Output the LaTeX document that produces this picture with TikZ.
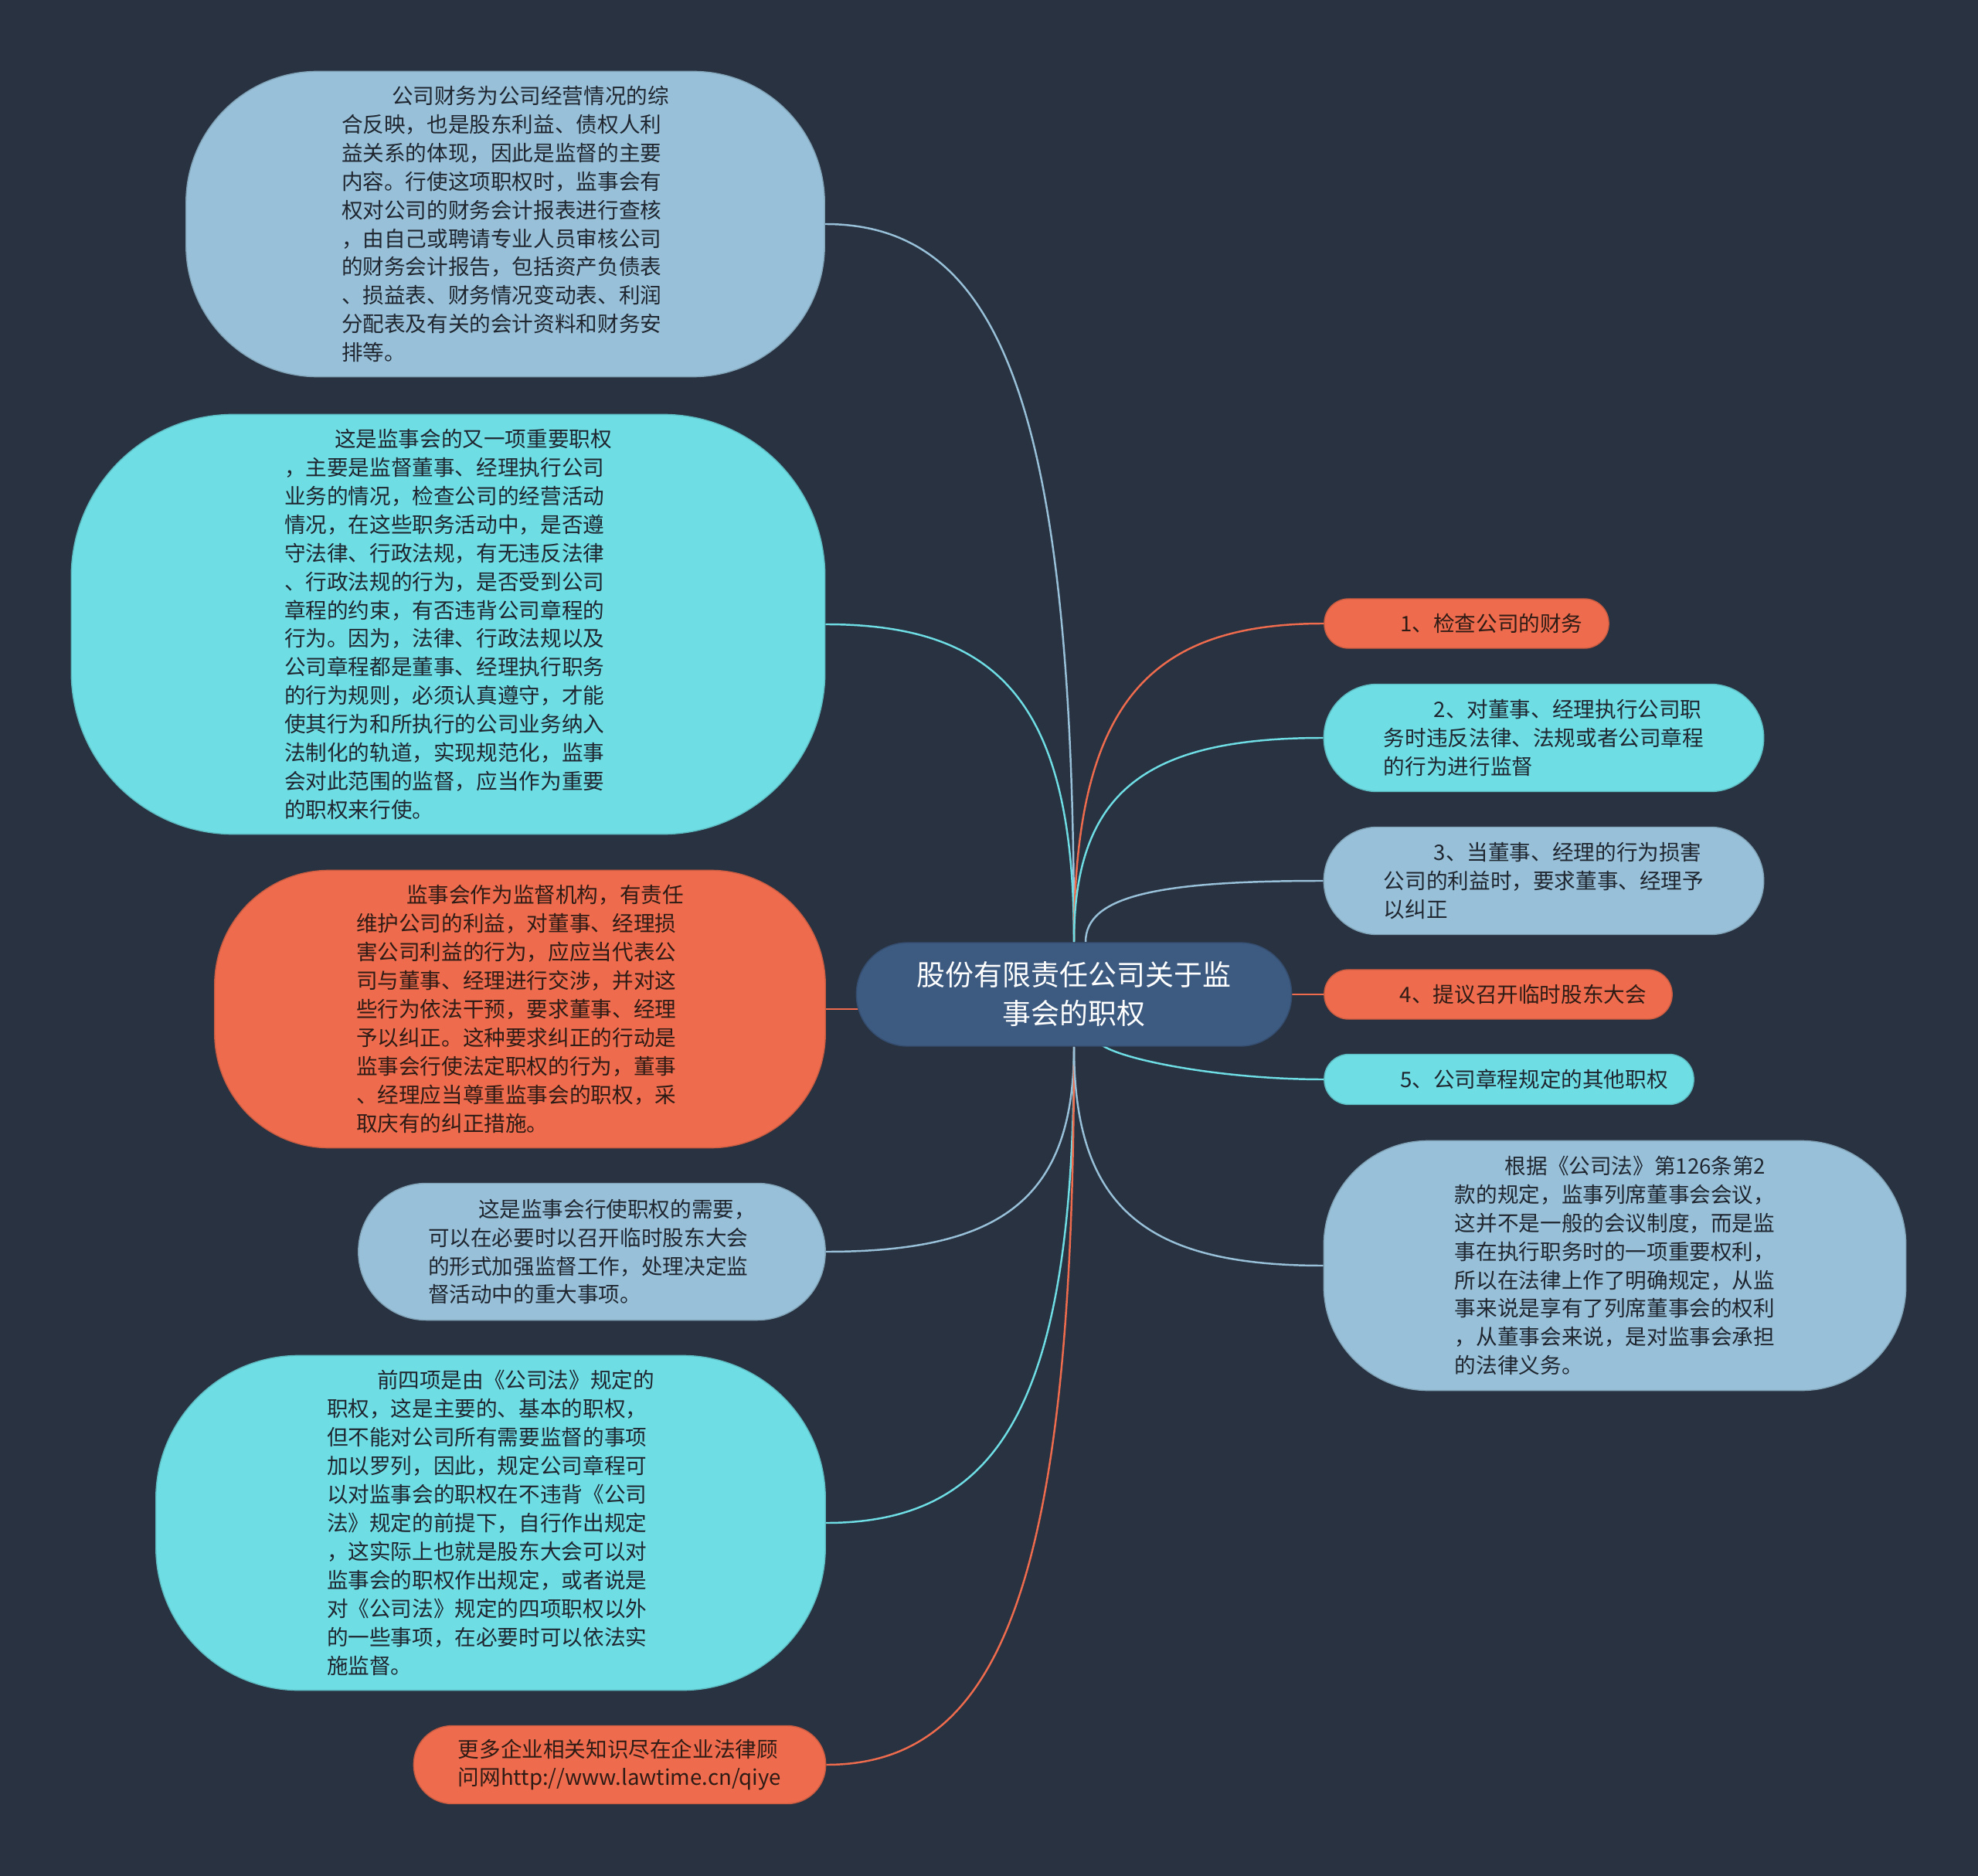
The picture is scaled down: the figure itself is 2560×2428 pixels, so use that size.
\documentclass[tikz,border=0pt]{standalone}
\usepackage{fontspec}
\newfontfamily\cjk{Noto Sans CJK SC}
\usetikzlibrary{backgrounds,calc}
\definecolor{bg}{HTML}{293241}
\definecolor{rootc}{HTML}{3D5A80}
\definecolor{lblue}{HTML}{98C1D9}
\definecolor{cyanc}{HTML}{6EDDE4}
\definecolor{orangec}{HTML}{EE6C4D}
\definecolor{darktxt}{HTML}{1F2630}
\definecolor{browntxt}{HTML}{2E1B15}
\tikzset{
  box/.style={rectangle, inner sep=0pt, align=left, font=\cjk\fontsize{7.85}{10.5}\selectfont, text=darktxt, line width=0.4pt},
  bluebox/.style={box, fill=lblue, draw=lblue!85!black},
  cyanbox/.style={box, fill=cyanc, draw=cyanc!85!black},
  orangebox/.style={box, fill=orangec, draw=orangec!85!black, text=browntxt},
  rootbox/.style={rectangle, inner sep=0pt, align=center, fill=rootc, draw=rootc!85!black, line width=0.4pt, text=white, font=\cjk\fontsize{10.5}{14.2}\selectfont},
  link/.style={line width=0.7pt},
}
\newcommand{\ind}{\hspace*{2.35em}}
\newcommand{\curvelink}[3]{%
  \draw[link,#1] (#2) .. controls ($(#2)!0.75!(#2 |- #3)$) and ($(#2 |- #3)!0.3!(#3)$) .. (#3);}
\begin{document}
\begin{tikzpicture}[x=0.01cm, y=-0.01cm]
\useasboundingbox (0,0) rectangle (2560,2428);

% root
\node[rootbox, minimum width=5.63cm, minimum height=1.34cm, rounded corners=0.665cm] (root) at (1390,1287)
  {股份有限责任公司关于监\\事会的职权};

% right side
\node[orangebox, minimum width=3.68cm, minimum height=0.64cm, rounded corners=0.315cm] (R1) at (1898,807)
  {\ind 1、检查公司的财务};
\node[cyanbox, minimum width=5.69cm, minimum height=1.39cm, rounded corners=0.69cm] (R2) at (1998,955)
  {\ind 2、对董事、经理执行公司职\\务时违反法律、法规或者公司章程\\的行为进行监督};
\node[bluebox, minimum width=5.69cm, minimum height=1.39cm, rounded corners=0.69cm] (R3) at (1998,1140)
  {\ind 3、当董事、经理的行为损害\\公司的利益时，要求董事、经理予\\以纠正};
\node[orangebox, minimum width=4.5cm, minimum height=0.64cm, rounded corners=0.315cm] (R4) at (1939,1287)
  {\ind 4、提议召开临时股东大会};
\node[cyanbox, minimum width=4.78cm, minimum height=0.65cm, rounded corners=0.32cm] (R5) at (1953,1397)
  {\ind 5、公司章程规定的其他职权};
\node[bluebox, minimum width=7.53cm, minimum height=3.23cm, rounded corners=1.35cm] (R6) at (2090,1638)
  {\ind 根据《公司法》第126条第2\\款的规定，监事列席董事会会议，\\这并不是一般的会议制度，而是监\\事在执行职务时的一项重要权利，\\所以在法律上作了明确规定，从监\\事来说是享有了列席董事会的权利\\，从董事会来说，是对监事会承担\\的法律义务。};

% left side
\node[bluebox, minimum width=8.26cm, minimum height=3.95cm, rounded corners=1.7cm] (L1) at (654,290)
  {\ind 公司财务为公司经营情况的综\\合反映，也是股东利益、债权人利\\益关系的体现，因此是监督的主要\\内容。行使这项职权时，监事会有\\权对公司的财务会计报表进行查核\\，由自己或聘请专业人员审核公司\\的财务会计报告，包括资产负债表\\、损益表、财务情况变动表、利润\\分配表及有关的会计资料和财务安\\排等。};
\node[cyanbox, minimum width=9.75cm, minimum height=5.43cm, rounded corners=2.1cm] (L2) at (580,808)
  {\ind 这是监事会的又一项重要职权\\，主要是监督董事、经理执行公司\\业务的情况，检查公司的经营活动\\情况，在这些职务活动中，是否遵\\守法律、行政法规，有无违反法律\\、行政法规的行为，是否受到公司\\章程的约束，有否违背公司章程的\\行为。因为，法律、行政法规以及\\公司章程都是董事、经理执行职务\\的行为规则，必须认真遵守，才能\\使其行为和所执行的公司业务纳入\\法制化的轨道，实现规范化，监事\\会对此范围的监督，应当作为重要\\的职权来行使。};
\node[orangebox, minimum width=7.9cm, minimum height=3.59cm, rounded corners=1.48cm] (L3) at (673,1306)
  {\ind 监事会作为监督机构，有责任\\维护公司的利益，对董事、经理损\\害公司利益的行为，应应当代表公\\司与董事、经理进行交涉，并对这\\些行为依法干预，要求董事、经理\\予以纠正。这种要求纠正的行动是\\监事会行使法定职权的行为，董事\\、经理应当尊重监事会的职权，采\\取庆有的纠正措施。};
\node[bluebox, minimum width=6.04cm, minimum height=1.77cm, rounded corners=0.88cm] (L4) at (766,1620)
  {\ind 这是监事会行使职权的需要，\\可以在必要时以召开临时股东大会\\的形式加强监督工作，处理决定监\\督活动中的重大事项。};
\node[cyanbox, minimum width=8.66cm, minimum height=4.33cm, rounded corners=1.85cm] (L5) at (635,1971)
  {\ind 前四项是由《公司法》规定的\\职权，这是主要的、基本的职权，\\但不能对公司所有需要监督的事项\\加以罗列，因此，规定公司章程可\\以对监事会的职权在不违背《公司\\法》规定的前提下，自行作出规定\\，这实际上也就是股东大会可以对\\监事会的职权作出规定，或者说是\\对《公司法》规定的四项职权以外\\的一些事项，在必要时可以依法实\\施监督。};
\node[orangebox, minimum width=5.33cm, minimum height=1.01cm, rounded corners=0.5cm] (L6) at (802,2284)
  {更多企业相关知识尽在企业法律顾\\问网http://www.lawtime.cn/qiye};

\coordinate (rt3) at ($(root.north)+(15,0)$);
\coordinate (rb5) at ($(root.south)+(30,-10)$);
\coordinate (l3in) at ($(root.west |- L3.east)+(15,0)$);

\begin{scope}[on background layer]
  \fill[bg] (0,0) rectangle (2560,2428);
  \curvelink{lblue}{root.north}{L1.east}
  \curvelink{cyanc}{root.north}{L2.east}
  \draw[link,orangec] (l3in) -- (L3.east);
  \curvelink{lblue}{root.south}{L4.east}
  \curvelink{cyanc}{root.south}{L5.east}
  \curvelink{orangec}{root.south}{L6.east}
  \curvelink{orangec}{root.north}{R1.west}
  \curvelink{cyanc}{root.north}{R2.west}
  \curvelink{lblue}{rt3}{R3.west}
  \draw[link,orangec] (root.east) -- (R4.west);
  \draw[link,cyanc] (rb5) .. controls ($(rb5)!0.4!(rb5 |- R5.west)$) and ($(rb5 |- R5.west)!0.5!(R5.west)$) .. (R5.west);
  \curvelink{lblue}{root.south}{R6.west}
\end{scope}
\end{tikzpicture}
\end{document}
